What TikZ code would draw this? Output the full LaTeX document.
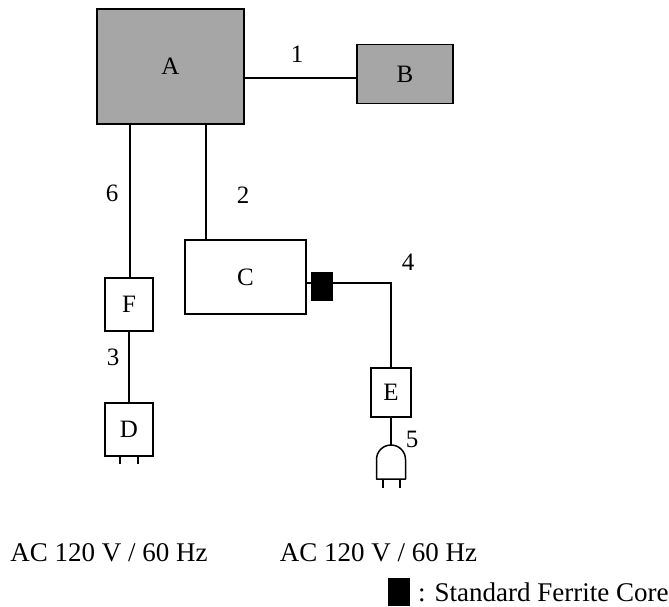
\documentclass[tikz,border=0pt]{standalone}
\usepackage{fontspec}
\setmainfont{Liberation Serif}
\begin{document}
\begin{tikzpicture}[x=1pt,y=-1pt,
  box/.style={draw, line width=1.6pt, inner sep=0pt, font=\fontsize{25}{28}\selectfont},
  gbox/.style={box, fill=boxgray},
  wire/.style={line width=1.5pt},
  num/.style={inner sep=0pt, font=\fontsize{25}{28}\selectfont},
  bigtxt/.style={inner sep=0pt, font=\fontsize{27}{30}\selectfont},
  core/.style={fill=black, inner sep=0pt, minimum width=22pt, minimum height=29pt}]
\definecolor{boxgray}{HTML}{A6A6A6}
\useasboundingbox (0,0) rectangle (669,606);
% boxes
\node[gbox, minimum width=147pt, minimum height=115pt] (A) at (170.5,66.5) {A};
\node[gbox, minimum width=96pt, minimum height=59pt] (B) at (405,74) {B};
\node[box, minimum width=121pt, minimum height=74pt] (C) at (245.5,277) {C};
\node[box, minimum width=48pt, minimum height=53pt] (F) at (129,304.5) {F};
\node[box, minimum width=48pt, minimum height=53pt] (D) at (129,429.5) {D};
\node[box, minimum width=40pt, minimum height=49pt] (E) at (391,392.5) {E};
\node[core] (fc) at (322,286.5) {};
% connector points
\coordinate (c2) at (206,240);
\coordinate (c6) at (130,278);
\coordinate (plugtop) at (391,445);
% wires
\draw[wire] (B.west |- 0,78) -- (A.east |- 0,78);
\draw[wire] (c6) -- (c6 |- A.south);
\draw[wire] (c2) -- (c2 |- A.south);
\draw[wire] (F.south) -- (D.north);
\draw[wire] (C.east |- 0,283) -- (fc.west |- 0,283);
\draw[wire] (fc.east |- 0,283) -- (E.north |- 0,283) -- (E.north);
\draw[wire] (E.south) -- (plugtop);
% plug under E
\draw[wire, line join=round] (376.5,479) -- (376.5,459.5) arc (180:360:14.5) -- (405.5,479) -- cycle;
\draw[wire] (383,479) -- (383,488);
\draw[wire] (400,479) -- (400,488);
% pins under D
\draw[wire] (120,456) -- (120,464);
\draw[wire] (138,456) -- (138,464);
% labels
\node[num] (n1) at (297,54) {1};
\node[num] (n2) at (243,195) {2};
\node[num] (n3) at (113,357) {3};
\node[num] (n4) at (408,262) {4};
\node[num] (n5) at (412,439) {5};
\node[num] (n6) at (112,193) {6};
\node[bigtxt] (ac1) at (109,553) {AC 120 V / 60 Hz};
\node[bigtxt] (ac2) at (378.5,553) {AC 120 V / 60 Hz};
% legend
\node[core, minimum height=28pt] (lg) at (399,592) {};
\node[bigtxt, anchor=west] (lgt) at (418,592) {: Standard Ferrite Core};
\end{tikzpicture}
\end{document}
